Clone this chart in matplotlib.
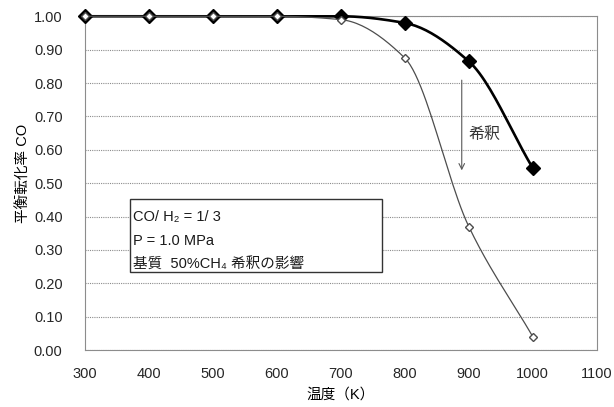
import numpy as np
import matplotlib
matplotlib.use("Agg")
import matplotlib.pyplot as plt
from matplotlib.patches import Rectangle

plt.rcParams["font.family"] = ["Liberation Sans", "Noto Sans CJK JP", "DejaVu Sans"]

# temperature (K) and equilibrium CO conversion
temp = [300, 400, 500, 600, 700, 800, 900, 1000]
base = [1.00, 1.00, 1.00, 1.00, 1.00, 0.98, 0.865, 0.545]
diluted = [1.00, 1.00, 1.00, 1.00, 0.99, 0.875, 0.37, 0.04]

box_lines = ["CO/ H₂ = 1/ 3", "P = 1.0 MPa", "基質  50%CH₄ 希釈の影響"]


def smooth(xs, ys, n=25):
    # monotone cubic (Fritsch-Carlson) through the points, for the smoothed look
    x = np.asarray(xs, float)
    y = np.asarray(ys, float)
    h = np.diff(x)
    d = np.diff(y) / h
    m = np.zeros_like(y)
    m[0], m[-1] = d[0], d[-1]
    for k in range(1, len(x) - 1):
        if d[k - 1] * d[k] > 0:
            w1 = 2 * h[k] + h[k - 1]
            w2 = h[k] + 2 * h[k - 1]
            m[k] = (w1 + w2) / (w1 / d[k - 1] + w2 / d[k])
    ox, oy = [], []
    t = np.linspace(0, 1, n)
    for k in range(len(x) - 1):
        h00 = 2 * t**3 - 3 * t**2 + 1
        h10 = t**3 - 2 * t**2 + t
        h01 = -2 * t**3 + 3 * t**2
        h11 = t**3 - t**2
        ox.extend(x[k] + t * h[k])
        oy.extend(h00 * y[k] + h10 * h[k] * m[k] + h01 * y[k + 1] + h11 * h[k] * m[k + 1])
    return ox, oy


fig = plt.figure(figsize=(6.14, 4.07), dpi=100)
ax = fig.add_axes([0.138, 0.14, 0.834, 0.82])

sx, sy = smooth(temp, base)
ax.plot(sx, sy, color="black", lw=1.9, zorder=3, clip_on=False)
ax.plot(temp, base, ls="none", marker="D", ms=7, mfc="black",
        mec="black", zorder=4, clip_on=False)

sx, sy = smooth(temp, diluted)
ax.plot(sx, sy, color="0.3", lw=0.9, zorder=5, clip_on=False)
ax.plot(temp, diluted, ls="none", marker="D", ms=4.5, mfc="white",
        mec="0.3", mew=1.0, zorder=6, clip_on=False)

ax.set_xlim(300, 1100)
ax.set_ylim(0, 1.0)
ax.set_xticks(range(300, 1101, 100))
ax.set_yticks(np.arange(0, 1.01, 0.1))
ax.set_yticklabels([f"{v:.2f}" for v in np.arange(0, 1.01, 0.1)])
ax.tick_params(axis="y", length=0, labelsize=10.5, colors="0.15", pad=16)
ax.tick_params(axis="x", length=0, labelsize=10.5, colors="0.15", pad=12)
ax.yaxis.grid(True, ls=(0, (1, 1)), color="0.55", lw=0.8)
ax.set_axisbelow(True)
for s in ax.spines.values():
    s.set_linestyle((0, (1, 1)))
    s.set_color("0.55")
    s.set_linewidth(0.8)

ax.set_xlabel("温度（K）", fontsize=10.5, labelpad=5)
ax.set_ylabel("平衡転化率 CO", fontsize=10.5)
ax.yaxis.set_label_coords(-0.105, 0.53)

# dilution arrow
ax.annotate("", xy=(889, 0.53), xytext=(889, 0.817),
            arrowprops=dict(arrowstyle="->", color="0.35", lw=0.8))
ax.text(900, 0.645, "希釈", fontsize=11.5, va="center", ha="left", color="0.2")

# condition box
ax.add_patch(Rectangle((370, 0.234), 394, 0.219, fc="white", ec="0.2",
                       lw=1.0, zorder=8))
for yy, line in zip([0.399, 0.327, 0.258], box_lines):
    ax.text(375, yy, line, fontsize=10.5, va="center", ha="left",
            color="0.1", zorder=9)

fig.savefig("out.png", dpi=100)
